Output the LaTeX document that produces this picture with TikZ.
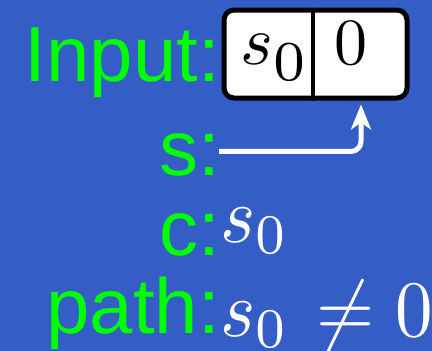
\documentclass[tikz,border=0pt]{standalone}
\usepackage{fontspec}
\newfontfamily\arialfont{Liberation Sans}
\usetikzlibrary{arrows.meta,calc}
\definecolor{bgblue}{RGB}{52,93,198}
\definecolor{lblgreen}{RGB}{0,255,0}
\begin{document}
\begin{tikzpicture}[x=1pt,y=-1pt,
  lbl/.style={text=lblgreen, font=\arialfont\fontsize{78}{90}\selectfont, inner sep=0pt, anchor=base east},
  mth/.style={text=white, inner sep=0pt, anchor=base west},
  cellmath/.style={text=black, inner sep=0pt, anchor=base west},
  inputbox/.style={draw=black, fill=white, line width=5pt, rounded corners=10pt,
    minimum width=183pt, minimum height=88pt, inner sep=0pt, anchor=north west},
  divider/.style={draw=black, line width=4pt},
  arrowline/.style={draw=white, line width=5pt, rounded corners=10pt,
    -{Stealth[length=25pt,width=20pt,inset=7pt]}}]
\fill[bgblue] (0,0) rectangle (432,351);
\useasboundingbox (0,0) rectangle (432,351);
% labels
\node[lbl] (inlbl) at (220,81) {Input:};
\node[lbl] (slbl) at (220,175) {s:};
\node[lbl] (clbl) at (220,255) {c:};
\node[lbl] (plbl) at (220,333) {path:};
% values
\node[mth] (cval) at (220,242) {\scalebox{7.5}[8]{$s_0$}};
\node[mth] (pval) at (220,336) {\scalebox{7.5}[8]{$s_0\mskip1.5mu\neq 0$}};
% input box
\node[inputbox] (box) at (221.5,7.5) {};
\coordinate (divx) at (313,0);
\draw[divider] (box.north -| divx) -- (box.south -| divx);
\node[cellmath] (cellA) at (240,64) {\scalebox{7}{$s_{\lower0.9pt\hbox{\scalebox{1.15}{$\scriptstyle 0$}}}$}};
\node[cellmath] (cellB) at (334,64) {\scalebox{6.6}{$0$}};
% arrow
\coordinate (tipx) at (361,0);
\coordinate (tip) at ($(box.south -| tipx)+(0,4)$);
\draw[arrowline] ($(slbl.east)+(-1,-3)$) -| (tip);
\end{tikzpicture}
\end{document}
